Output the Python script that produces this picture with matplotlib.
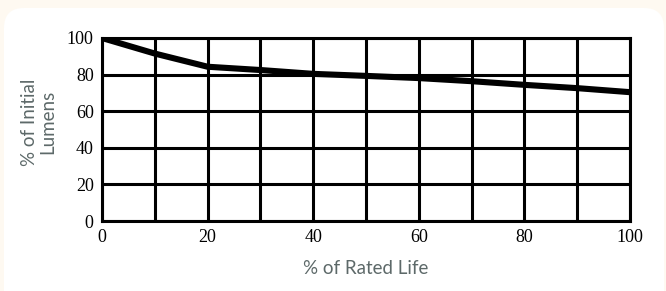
import matplotlib
matplotlib.use("Agg")
import matplotlib.pyplot as plt
from matplotlib.patches import FancyBboxPatch

# data
life_pct = [0, 10, 20, 30, 40, 50, 60, 70, 80, 90, 100]
lumens_pct = [100, 91.5, 84.3, 82.5, 80.4, 79.3, 78.1, 76.4, 74.4, 72.6, 70.4]
x_ticks = [0, 20, 40, 60, 80, 100]
y_ticks = [0, 20, 40, 60, 80, 100]
x_grid = list(range(0, 101, 10))

bg = "#fef9f1"
text_grey = "#5d6969"

fig = plt.figure(figsize=(6.66, 2.91), dpi=100)
fig.patch.set_facecolor(bg)

# white rounded panel behind the chart
panel = FancyBboxPatch((4 / 666, -20 / 291), 660 / 666, 303 / 291,
                       boxstyle="round,pad=0,rounding_size=0.03",
                       transform=fig.transFigure, facecolor="white",
                       edgecolor="none", mutation_aspect=666 / 291, zorder=-5)
fig.add_artist(panel)

ax = fig.add_axes([102 / 666, 70 / 291, 528 / 666, 183 / 291])
ax.set_facecolor("white")

ax.plot(life_pct, lumens_pct, color="black", lw=4.4, solid_capstyle="butt", zorder=3)

for gx in x_grid:
    ax.axvline(gx, color="black", lw=2.2, zorder=2)
for gy in y_ticks:
    ax.axhline(gy, color="black", lw=2.2, zorder=2)

ax.set_xlim(0, 100)
ax.set_ylim(0, 100)
ax.set_xticks(x_ticks)
ax.set_yticks(y_ticks)
ax.set_xticklabels([str(v) for v in x_ticks], family="Liberation Serif", fontsize=13)
ax.set_yticklabels([str(v) for v in y_ticks], family="Liberation Serif", fontsize=13)
ax.tick_params(length=0, pad=6)
for s in ax.spines.values():
    s.set_linewidth(2.2)

fig.text(366 / 666, 1 - 268 / 291, "% of Rated Life", family="Lato", fontsize=13.5,
         color=text_grey, ha="center", va="center")
fig.text(39 / 666, 1 - 122 / 291, "% of Initial\nLumens", family="Lato", fontsize=13.5,
         color=text_grey, ha="center", va="center", rotation=90, linespacing=1.1)

fig.savefig("out.png", dpi=100, facecolor=bg)
